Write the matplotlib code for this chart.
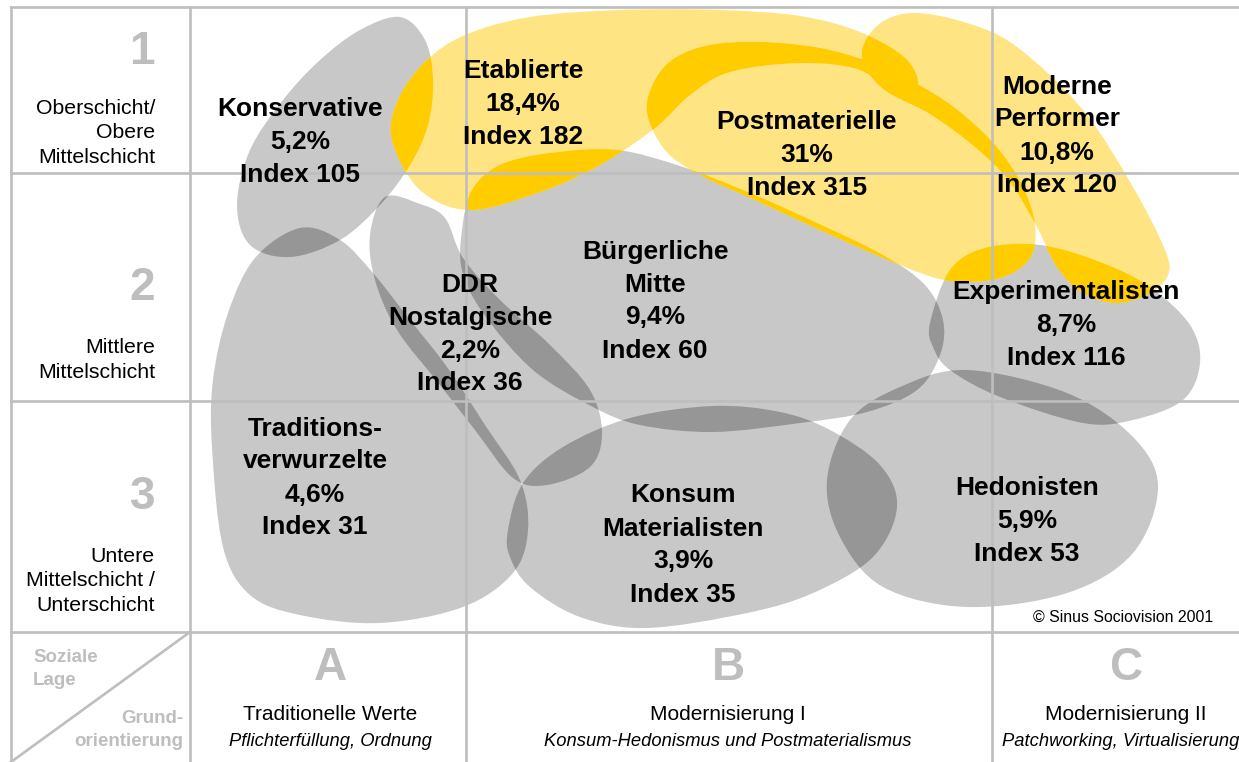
"""
Sinus-Milieus Deutschland 2001 - Nachbau als matplotlib-Grafik
"""
import numpy as np
import matplotlib
matplotlib.use('Agg')
import matplotlib.pyplot as plt
from matplotlib.path import Path
from matplotlib.patches import PathPatch

plt.rcParams['font.family'] = ['Liberation Sans', 'DejaVu Sans']

# --- Daten -------------------------------------------------------------
milieus = ["Konservative", "Etablierte", "Postmaterielle", "Moderne\nPerformer",
           "Traditions-\nverwurzelte", "DDR\nNostalgische", "Bürgerliche\nMitte",
           "Konsum\nMaterialisten", "Experimentalisten", "Hedonisten"]
shares = ["5,2%", "18,4%", "31%", "10,8%", "4,6%", "2,2%", "9,4%", "3,9%", "8,7%", "5,9%"]
index_vals = [105, 182, 315, 120, 31, 36, 60, 35, 116, 53]
is_yellow = [False, True, True, True, False, False, False, False, False, False]

row_nums = ["1", "2", "3"]
row_labels = ["Oberschicht/\nObere\nMittelschicht", "Mittlere\nMittelschicht",
              "Untere\nMittelschicht /\nUnterschicht"]
col_letters = ["A", "B", "C"]
col_titles = ["Traditionelle Werte", "Modernisierung I", "Modernisierung II"]
col_subtitles = ["Pflichterfüllung, Ordnung", "Konsum-Hedonismus und Postmaterialismus",
                 "Patchworking, Virtualisierung"]

# Umrisse der Milieus (Stützpunkte, Bildkoordinaten)
outline_kons = [(400, 17), (425, 40), (433, 80), (428, 125), (410, 165), (380, 205),
                (340, 240), (290, 257), (250, 245), (237, 205), (250, 150), (283, 100),
                (320, 60), (360, 30)]
outline_etab = [(392, 140), (398, 100), (425, 62), (465, 35), (530, 17), (620, 10),
                (720, 10), (800, 16), (860, 32), (905, 58), (918, 85), (900, 98),
                (860, 70), (800, 63), (730, 72), (690, 95), (655, 128), (600, 165),
                (540, 192), (470, 210), (420, 190)]
outline_post = [(647, 112), (655, 80), (675, 58), (710, 45), (760, 42), (820, 48),
                (870, 62), (910, 80), (955, 108), (995, 145), (1022, 185), (1035, 225),
                (1030, 258), (1000, 278), (950, 281), (900, 265), (820, 230), (755, 200),
                (700, 175), (665, 150)]
outline_mp = [(862, 55), (878, 25), (913, 13), (967, 23), (1017, 47), (1083, 110),
              (1133, 187), (1165, 250), (1168, 275), (1150, 293), (1117, 303),
              (1083, 293), (1057, 267), (1037, 227), (1010, 182), (975, 147),
              (930, 114), (882, 88)]
outline_trad = [(300, 228), (340, 240), (373, 273), (410, 320), (447, 367), (485, 425),
                (520, 480), (528, 530), (513, 573), (463, 607), (380, 623), (300, 615),
                (250, 595), (223, 547), (212, 447), (213, 380), (228, 313), (255, 258)]
outline_ddr = [(385, 197), (420, 204), (445, 218), (463, 258), (500, 300), (550, 345),
               (590, 390), (602, 433), (590, 467), (547, 485), (513, 478), (475, 430),
               (440, 385), (397, 330), (375, 280), (370, 235)]
outline_bm = [(462, 230), (472, 190), (500, 165), (550, 153), (617, 150), (683, 167),
              (750, 193), (817, 223), (883, 255), (925, 285), (943, 320), (940, 355),
              (917, 390), (867, 412), (800, 423), (713, 432), (640, 425), (593, 407),
              (533, 370), (483, 313), (462, 270)]
outline_kons_mat = [(508, 530), (523, 483), (563, 447), (630, 418), (713, 406), (780, 412),
                    (830, 430), (880, 465), (897, 507), (873, 557), (813, 593), (747, 613),
                    (647, 628), (580, 617), (530, 587), (510, 557)]
outline_exp = [(930, 323), (950, 270), (985, 248), (1040, 245), (1100, 262), (1150, 287),
               (1190, 325), (1200, 363), (1183, 400), (1133, 420), (1083, 423),
               (1000, 397), (950, 370), (933, 347)]
outline_hed = [(827, 480), (850, 420), (900, 387), (967, 370), (1067, 393), (1133, 437),
               (1158, 487), (1133, 553), (1067, 593), (967, 607), (883, 587), (840, 537)]

outlines = [outline_kons, outline_etab, outline_post, outline_mp, outline_trad,
            outline_ddr, outline_bm, outline_kons_mat, outline_exp, outline_hed]
label_pos = [(300, 142), (523, 104), (807, 155), (1057, 136), (315, 478), (470, 334),
             (655, 301), (683, 545), (1066, 325), (1027, 521)]

GRAY, GRAY_DARK = '#C8C8C8', '#969696'
YELLOW, YELLOW_DARK = '#FFE483', '#FFCC00'
GRID = '#BEBEBE'


def blob(pts):
    # geschlossene Catmull-Rom-Kurve als Bezier-Pfad
    p = np.asarray(pts, float)
    n = len(p)
    verts, codes = [p[0]], [Path.MOVETO]
    for i in range(n):
        p0, p1, p2, p3 = p[i - 1], p[i], p[(i + 1) % n], p[(i + 2) % n]
        verts += [p1 + (p2 - p0) / 6, p2 - (p3 - p1) / 6, p2]
        codes += [Path.CURVE4] * 3
    verts.append(p[0])
    codes.append(Path.CLOSEPOLY)
    return Path(verts, codes)


fig = plt.figure(figsize=(12.39, 7.62), dpi=100)
ax = fig.add_axes([0, 0, 1, 1])
ax.set_xlim(0, 1239)
ax.set_ylim(762, 0)
ax.axis('off')

paths = [blob(o) for o in outlines]

# Grundflächen
for path, yel in zip(paths, is_yellow):
    ax.add_patch(PathPatch(path, fc=YELLOW if yel else GRAY, ec='none',
                           zorder=2 if yel else 1))

# Überschneidungen dunkler
for i in range(len(paths)):
    for j in range(i + 1, len(paths)):
        yel = is_yellow[i] or is_yellow[j]
        pp = PathPatch(paths[j], fc=YELLOW_DARK if yel else GRAY_DARK, ec='none',
                       zorder=4 if yel else 3)
        pp.set_clip_path(paths[i], ax.transData)
        ax.add_patch(pp)

# Raster
lw = 1.9
ax.plot([11, 1239], [7, 7], color=GRID, lw=lw, zorder=5)
for y in [173, 401, 632]:
    ax.plot([11, 1239], [y, y], color=GRID, lw=lw, zorder=5)
for x in [11, 190, 466, 992]:
    ax.plot([x, x], [7, 762], color=GRID, lw=lw, zorder=5)
ax.plot([11, 190], [762, 632], color=GRID, lw=lw, zorder=5)

# Milieu-Beschriftungen
step = 33
for name, sh, idx, (x, y) in zip(milieus, shares, index_vals, label_pos):
    lines = name.split("\n") + [sh, f"Index {idx}"]
    n = len(lines)
    for k, line in enumerate(lines):
        ax.text(x, y + (k - (n - 1) / 2) * step, line, ha='center', va='center',
                fontsize=19, fontweight='bold', color='black', zorder=6)

# Zeilen (soziale Lage)
row_num_y = [52, 288, 497]
row_label_y = [133, 360, 581]
for num, lab, ny, ly in zip(row_nums, row_labels, row_num_y, row_label_y):
    ax.text(155, ny, num, ha='right', va='center', fontsize=33, fontweight='bold',
            color=GRID, zorder=6)
    ax.text(155, ly, lab, ha='right', va='center', fontsize=15.3, color='black',
            linespacing=1.38, zorder=6)

# Spalten (Grundorientierung)
col_x = [330, 728, 1126]
sub_x = [330, 728, 1121]
for x, sx, let, tit, sub in zip(col_x, sub_x, col_letters, col_titles, col_subtitles):
    ax.text(x, 668, let, ha='center', va='center', fontsize=33, fontweight='bold',
            color=GRID)
    ax.text(x, 715, tit, ha='center', va='center', fontsize=15, color='black')
    ax.text(sx, 742, sub, ha='center', va='center', fontsize=13.2, style='italic',
            color='black')

ax.text(33, 669, "Soziale\nLage", ha='left', va='center', fontsize=13.5,
        fontweight='bold', color=GRID, linespacing=1.4)
ax.text(183, 730, "Grund-\norientierung", ha='right', va='center', fontsize=13.5,
        fontweight='bold', color=GRID, linespacing=1.4)
ax.text(1213, 617, "© Sinus Sociovision 2001", ha='right', va='center', fontsize=11.4,
        color='black', zorder=6)

plt.savefig("out.png", dpi=100)
